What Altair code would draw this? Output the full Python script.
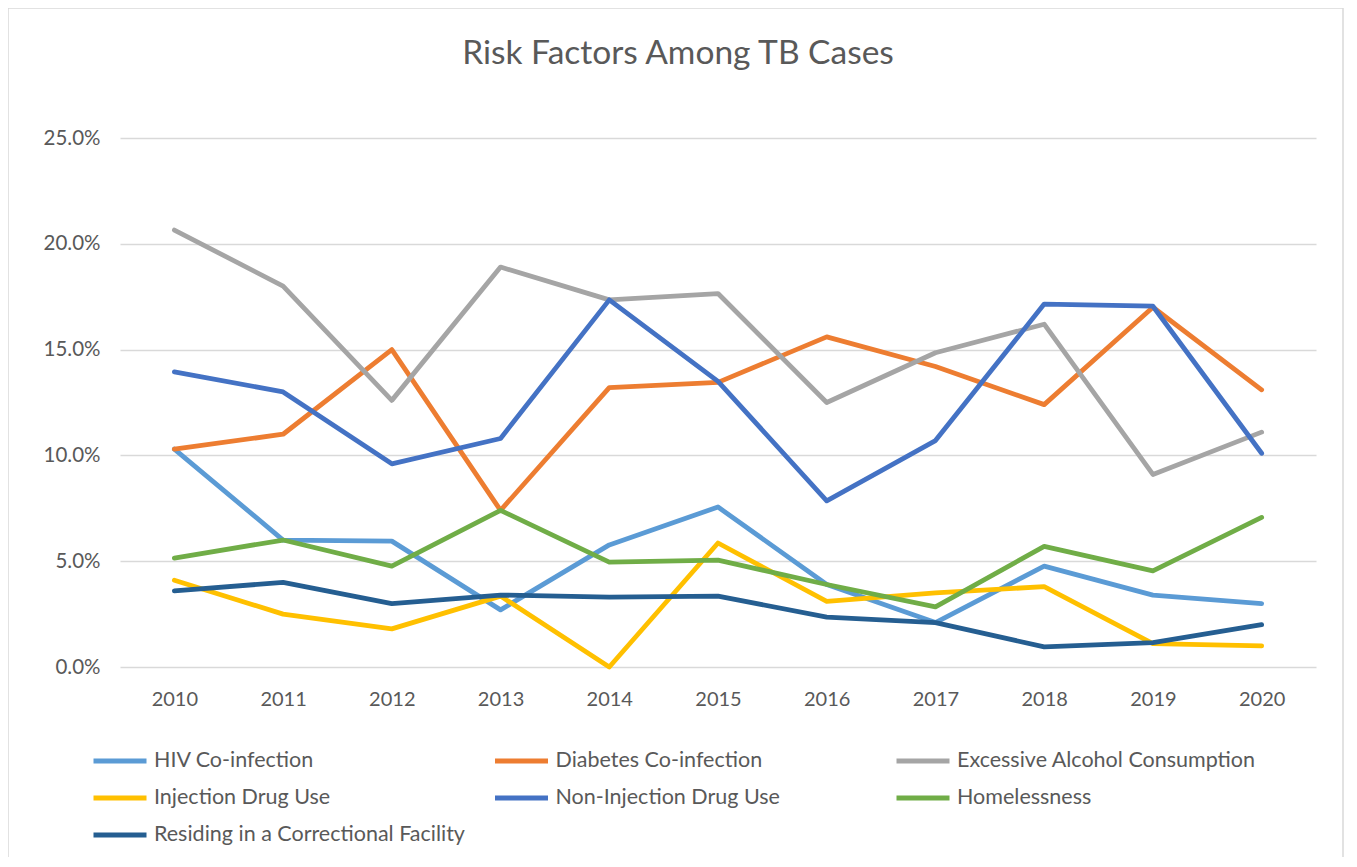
import altair as alt
import pandas as pd

years = [str(y) for y in range(2010, 2021)]
series_names = [
    "HIV Co-infection",
    "Diabetes Co-infection",
    "Excessive Alcohol Consumption",
    "Injection Drug Use",
    "Non-Injection Drug Use",
    "Homelessness",
    "Residing in a Correctional Facility",
]
colors = ["#5B9BD5", "#ED7D31", "#A5A5A5", "#FFC000", "#4472C4", "#70AD47", "#255E91"]

hiv = [10.3, 6.0, 5.95, 2.7, 5.77, 7.56, 3.9, 2.1, 4.77, 3.4, 3.0]
diabetes = [10.3, 11.0, 15.0, 7.4, 13.2, 13.45, 15.6, 14.2, 12.4, 17.0, 13.1]
alcohol = [20.65, 18.0, 12.6, 18.9, 17.35, 17.65, 12.5, 14.85, 16.2, 9.1, 11.1]
injection = [4.1, 2.5, 1.8, 3.35, 0.0, 5.86, 3.1, 3.5, 3.8, 1.1, 1.0]
non_injection = [13.95, 13.0, 9.6, 10.8, 17.35, 13.5, 7.85, 10.7, 17.15, 17.05, 10.1]
homeless = [5.15, 6.0, 4.77, 7.4, 4.96, 5.05, 3.9, 2.84, 5.7, 4.54, 7.07]
correctional = [3.6, 4.0, 3.0, 3.4, 3.3, 3.35, 2.36, 2.1, 0.95, 1.15, 2.0]

all_values = [hiv, diabetes, alcohol, injection, non_injection, homeless, correctional]

rows = []
for name, vals in zip(series_names, all_values):
    for yr, v in zip(years, vals):
        rows.append({"Year": yr, "Series": name, "Value": v / 100.0})
df = pd.DataFrame(rows)

FONT = "Lato"
TXT = "#595959"

lines = alt.Chart(df).mark_line(strokeWidth=4.8, strokeCap="round", strokeJoin="round").encode(
    x=alt.X("Year:N", sort=years,
            scale=alt.Scale(type="point", padding=0.5),
            axis=alt.Axis(title=None, labelAngle=0, ticks=False, domain=False,
                          labelPadding=22, labelFontSize=20, labelColor=TXT, labelFont=FONT,
                          grid=False)),
    y=alt.Y("Value:Q",
            scale=alt.Scale(domain=[0, 0.25], nice=False),
            axis=alt.Axis(title=None, format=".1%", values=[0, 0.05, 0.10, 0.15, 0.20, 0.25],
                          ticks=False, domain=False, labelPadding=20, labelFontSize=20.5,
                          labelColor=TXT, labelFont=FONT, gridColor="#D9D9D9", gridWidth=1.3)),
    color=alt.Color("Series:N", sort=series_names,
                    scale=alt.Scale(domain=series_names, range=colors),
                    legend=alt.Legend(title=None, orient="none", legendX=-12.5, legendY=610.5,
                                      direction="horizontal",
                                      columns=3, gridAlign="all", columnPadding=19.5,
                                      rowPadding=14, symbolType="M-2.65,0H2.65", symbolSize=400,
                                      symbolStrokeWidth=4.8, labelFontSize=21.5, labelColor=TXT,
                                      labelFont=FONT, labelOffset=21.5, labelLimit=500)),
    order=alt.Order("Year:N"),
)

border = alt.Chart(pd.DataFrame({"a": [0]})).mark_rect(
    fill=None, stroke="#D9D9D9", strokeWidth=1.5, clip=False
).encode(x=alt.value(-112), x2=alt.value(1223), y=alt.value(-130), y2=alt.value(760))

chart = alt.layer(border, lines).properties(
    width=1196, height=529,
    autosize=alt.AutoSizeParams(type="none"),
    padding={"left": 112, "top": 130, "right": 28, "bottom": 190},
    title=alt.TitleParams("Risk Factors Among TB Cases", fontSize=33.5, font=FONT,
                          color=TXT, fontWeight="normal", offset=-64, anchor="middle",
                          frame="group", dx=-40),
).configure_view(stroke=None)

chart.save("out.html", embed_options={"renderer": "svg", "actions": False})
